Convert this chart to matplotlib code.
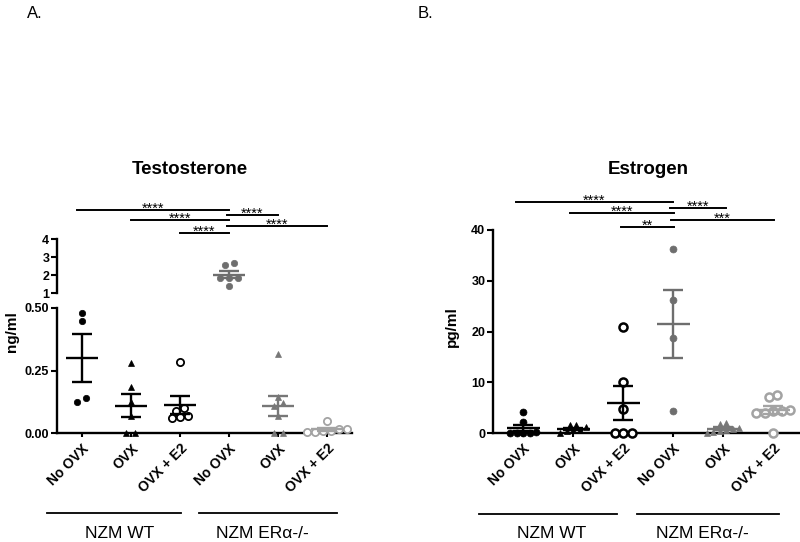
import numpy as np
import matplotlib
matplotlib.use("Agg")
import matplotlib.pyplot as plt
from matplotlib.lines import Line2D
from matplotlib.transforms import blended_transform_factory

plt.rcParams['font.family'] = ['Liberation Sans', 'DejaVu Sans']

# ---- datos ----
grupos = ["No OVX", "OVX", "OVX + E2", "No OVX", "OVX", "OVX + E2"]
cepas = ["NZM WT", "NZM ERα-/-"]

testo = [
    [0.48, 0.45, 0.125, 0.14],
    [0.28, 0.185, 0.125, 0.07, 0.0, 0.0],
    [0.285, 0.10, 0.07, 0.06, 0.065, 0.09],
    [2.57, 2.67, 1.85, 1.85, 1.85, 1.37],
    [0.315, 0.145, 0.12, 0.11, 0.07, 0.0, 0.0],
    [0.05, 0.015, 0.01, 0.005, 0.005, 0.01, 0.015],
]

estro = [
    [4.2, 2.2, 0.2, 0.0, 0.0, 0.0, 0.0],
    [1.6, 1.6, 1.2, 0.5, 0.3, 0.5, 0.0],
    [20.8, 10.1, 4.8, 0.0, 0.0, 0.0],
    [36.3, 26.3, 18.8, 4.3],
    [2.0, 1.8, 1.0, 0.8, 0.5, 0.2, 0.0, 0.3],
    [7.5, 7.0, 4.5, 4.3, 4.0, 4.0, 4.4, 0.0],
]

# comparaciones: (desde, hasta, etiqueta)
comp_testo = [(-0.1, 3.0, "****"), (1.0, 3.0, "****"), (2.0, 3.0, "****"),
              (2.95, 4.0, "****"), (2.95, 5.0, "****")]
comp_estro = [(-0.14, 3.0, "****"), (0.94, 3.02, "****"), (1.96, 3.02, "**"),
              (2.94, 4.06, "****"), (2.96, 5.02, "***")]

# estilo por grupo: marcador, relleno, color
estilos = [
    ("o", True, "black"),
    ("^", True, "black"),
    ("o", False, "black"),
    ("o", True, "#6e6e6e"),
    ("^", True, "#777777"),
    ("o", False, "#a3a3a3"),
]

W, H = 800, 542
fig = plt.figure(figsize=(W / 100, H / 100), dpi=100)


def caja(x0, x1, ytop, ybot):
    return [x0 / W, 1 - ybot / H, (x1 - x0) / W, (ybot - ytop) / H]


def fy(ypx):
    return 1 - ypx / H


def enjambre(ax, x, vals, diam_px, paso_px):
    # agrupa puntos cercanos en vertical y los reparte centrados en horizontal
    vals = np.asarray(vals, dtype=float)
    ypx = ax.transData.transform(np.column_stack([np.full(len(vals), x), vals]))[:, 1]
    unidad = ax.transData.transform([(1, 0)])[0, 0] - ax.transData.transform([(0, 0)])[0, 0]
    orden = np.argsort(ypx)
    offs = np.zeros(len(vals))
    grupo = [orden[0]]
    bloques = []
    for i in orden[1:]:
        if ypx[i] - ypx[grupo[0]] < diam_px:
            grupo.append(i)
        else:
            bloques.append(grupo)
            grupo = [i]
    bloques.append(grupo)
    for g in bloques:
        n = len(g)
        for k, i in enumerate(g):
            offs[i] = (k - (n - 1) / 2) * paso_px / unidad
    return x + offs


def dibujar_grupo(ax, i, vals, ms, mew, diam_px, paso_px):
    m, relleno, c = estilos[i]
    xs = enjambre(ax, i, vals, diam_px, paso_px)
    ax.plot(xs, vals, linestyle="none", marker=m, ms=ms,
            mfc=c if relleno else "white", mec=c, mew=mew, clip_on=False, zorder=3)
    v = np.asarray(vals)
    media = v.mean()
    sem = v.std(ddof=1) / np.sqrt(len(v))
    kw = dict(color=c, lw=1.7, zorder=4, clip_on=False, solid_capstyle="butt")
    ax.plot([i - 0.33, i + 0.33], [media, media], **kw)
    ax.plot([i - 0.2, i + 0.2], [media + sem] * 2, **kw)
    ax.plot([i - 0.2, i + 0.2], [media - sem] * 2, **kw)
    ax.plot([i, i], [media - sem, media + sem], **kw)


def estilo_ejes(ax):
    for s in ["top", "right"]:
        ax.spines[s].set_visible(False)
    for s in ["left", "bottom"]:
        ax.spines[s].set_linewidth(1.7)
    ax.tick_params(width=1.5, length=4, labelsize=9, pad=1.5)
    for t in ax.get_yticklabels():
        t.set_fontweight("bold")


def etiquetas_x(ax):
    ax.set_xticks(range(len(grupos)))
    ax.set_xticklabels(grupos, rotation=45, ha="right", rotation_mode="anchor",
                       fontsize=10, fontweight="bold")
    ax.tick_params(axis="x", length=3, pad=3)


def barras_sig(ax, comps, ypxs):
    tr = blended_transform_factory(ax.transData, fig.transFigure)
    for (a, b, lab), ypx in zip(comps, ypxs):
        fig.add_artist(Line2D([a, b], [fy(ypx)] * 2, transform=tr, color="black", lw=1.4))
        fig.text((a + b) / 2, fy(ypx - 1), lab, transform=tr, ha="center", va="center",
                 fontsize=10.5)


# ---- panel A: testosterona (eje partido) ----
axA = fig.add_axes(caja(57, 352, 308, 433))
axA.set_xlim(-0.51, 5.51)
axA.set_ylim(0, 0.5)
axA.set_yticks([0, 0.25, 0.5])
axA.set_yticklabels(["0.00", "0.25", "0.50"])
estilo_ejes(axA)
etiquetas_x(axA)

axA2 = fig.add_axes(caja(57, 352, 239, 293))
axA2.set_xlim(-0.51, 5.51)
axA2.set_ylim(1, 4)
axA2.set_yticks([1, 2, 3, 4])
estilo_ejes(axA2)
axA2.spines["bottom"].set_visible(False)
axA2.set_xticks([])
axA2.patch.set_alpha(0)

for i, vals in enumerate(testo):
    ax = axA2 if np.mean(vals) > 1 else axA
    abierto = not estilos[i][1]
    dibujar_grupo(ax, i, vals, ms=5.2 if abierto else 4.6, mew=1.3 if abierto else 0.5,
                  diam_px=6.5, paso_px=8 if abierto else 9)

barras_sig(axA, comp_testo, [210, 220, 233, 215, 226])

fig.text(190 / W, fy(170), "Testosterone", ha="center", va="center",
         fontsize=13.5, fontweight="bold")
fig.text(12 / W, fy(332), "ng/ml", rotation=90, ha="center", va="center",
         fontsize=11, fontweight="bold")
fig.text(35 / W, fy(13), "A.", ha="center", va="center", fontsize=12)

# ---- panel B: estrogeno ----
axB = fig.add_axes(caja(493, 800, 230, 433))
axB.set_xlim(-0.6, 5.54)
axB.set_ylim(0, 40)
axB.set_yticks([0, 10, 20, 30, 40])
estilo_ejes(axB)
etiquetas_x(axB)

for i, vals in enumerate(estro):
    abierto = not estilos[i][1]
    dibujar_grupo(axB, i, vals, ms=5.8 if abierto else 5.0, mew=1.8 if abierto else 0.5,
                  diam_px=6.5, paso_px=8.5 if abierto else 6.5)

barras_sig(axB, comp_estro, [202, 213, 227, 208, 220])

fig.text(648 / W, fy(170), "Estrogen", ha="center", va="center",
         fontsize=13.5, fontweight="bold")
fig.text(452 / W, fy(327), "pg/ml", rotation=90, ha="center", va="center",
         fontsize=11, fontweight="bold")
fig.text(425 / W, fy(13), "B.", ha="center", va="center", fontsize=12)

# ---- lineas de cepa ----
for (x0, x1, xc), nombre in zip([(47, 181, 120), (199, 337, 262)], cepas):
    fig.add_artist(Line2D([x0 / W, x1 / W], [fy(513)] * 2, color="black", lw=1.3))
    fig.text(xc / W, fy(533), nombre, ha="center", va="center", fontsize=12.5)
for (x0, x1, xc), nombre in zip([(479, 617, 552), (637, 779, 702)], cepas):
    fig.add_artist(Line2D([x0 / W, x1 / W], [fy(514)] * 2, color="black", lw=1.3))
    fig.text(xc / W, fy(533), nombre, ha="center", va="center", fontsize=12.5)

fig.savefig("out.png", dpi=100)
